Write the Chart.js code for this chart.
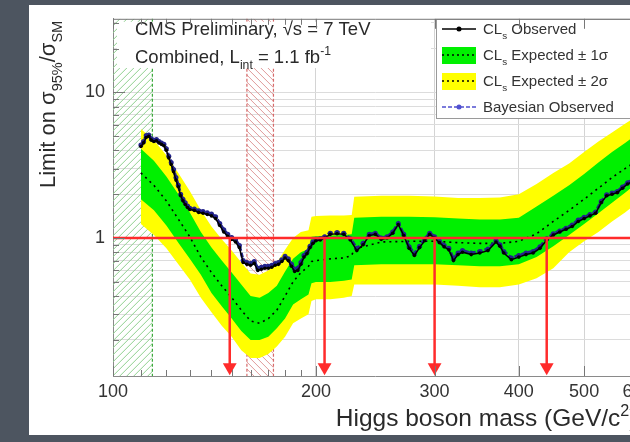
<!DOCTYPE html>
<html>
<head>
<meta charset="utf-8">
<title>Higgs combined limit</title>
<script src="https://cdn.jsdelivr.net/npm/chart.js"></script>
<style>
  html, body { margin: 0; padding: 0; overflow: hidden; }
  body { width: 630px; height: 442px; background: #4d5560; position: relative; }
  #card { position: absolute; left: 29px; top: 5px; width: 700px; height: 430px; background: #fff; }
  #limits { position: absolute; left: 0; top: 0; }
</style>
</head>
<body>
<div id="card"></div>
<canvas id="limits" width="680" height="442"></canvas>
<script>

// Expected limit and its bands, at the mass points of the combination (GeV)
const massExp = [110, 115, 120, 125, 130, 135, 140, 145, 150, 155,
                 160, 165, 170, 175, 180, 185, 190, 195, 197, 200,
                 210, 220, 226, 228, 250, 275, 300, 325, 350, 375,
                 400, 425, 450, 475, 500, 525, 550, 575, 600];
const expMedian = [2.8, 2.3, 1.8, 1.35, 1.02, 0.74, 0.58, 0.47, 0.39, 0.32,
                   0.27, 0.26, 0.28, 0.32, 0.4, 0.5, 0.58, 0.64, 0.69, 0.7,
                   0.72, 0.73, 0.76, 0.84, 0.94, 0.95, 0.95, 0.93, 0.92, 0.92,
                   0.95, 1.07, 1.3, 1.55, 1.85, 2.2, 2.6, 3.0, 3.4];
const exp2Up = [5.6, 4.7, 3.7, 2.8, 2.1, 1.55, 1.2, 0.98, 0.82, 0.68,
                0.57, 0.56, 0.6, 0.68, 0.83, 1.0, 1.1, 1.13, 1.4, 1.42,
                1.43, 1.43, 1.44, 1.92, 1.95, 1.95, 1.93, 1.88, 1.88, 1.9,
                2.0, 2.35, 2.8, 3.25, 3.9, 4.6, 5.3, 6.1, 6.9];
const exp1Up = [4.1, 3.4, 2.65, 2.0, 1.5, 1.1, 0.86, 0.7, 0.58, 0.48,
                0.4, 0.39, 0.42, 0.47, 0.59, 0.72, 0.8, 0.84, 1.02, 1.03,
                1.04, 1.05, 1.06, 1.38, 1.4, 1.4, 1.39, 1.36, 1.34, 1.34,
                1.38, 1.65, 1.95, 2.3, 2.75, 3.3, 3.9, 4.5, 5.2];
const exp1Down = [1.85, 1.55, 1.22, 0.93, 0.72, 0.56, 0.42, 0.34, 0.28, 0.23,
                  0.2, 0.2, 0.21, 0.24, 0.28, 0.35, 0.38, 0.41, 0.49, 0.5,
                  0.5, 0.51, 0.52, 0.65, 0.66, 0.66, 0.66, 0.65, 0.64, 0.64,
                  0.66, 0.74, 0.88, 1.05, 1.25, 1.48, 1.75, 2.05, 2.4];
const exp2Down = [1.25, 1.05, 0.85, 0.66, 0.52, 0.39, 0.31, 0.25, 0.21, 0.17,
                  0.15, 0.15, 0.16, 0.18, 0.21, 0.26, 0.28, 0.3, 0.37, 0.38,
                  0.38, 0.39, 0.4, 0.48, 0.48, 0.48, 0.48, 0.47, 0.46, 0.46,
                  0.48, 0.53, 0.62, 0.8, 0.95, 1.1, 1.3, 1.5, 1.75];

// Observed limits
const massObs = [110, 111, 112, 113, 114, 115, 116, 117, 118, 119,
                 120, 121, 122, 123, 124, 125, 126, 127, 128, 129,
                 130, 132, 134, 136, 138, 140, 142, 144, 146, 148,
                 150, 152, 154, 156, 158, 160, 162, 164, 166, 168,
                 170, 172, 174, 176, 178, 180, 182, 184, 186, 188,
                 190, 192, 194, 196, 198, 200, 203, 206, 210, 215,
                 220, 225, 230, 235, 240, 245, 250, 255, 260, 265,
                 270, 275, 280, 285, 290, 295, 300, 305, 310, 315,
                 320, 325, 330, 340, 350, 360, 370, 375, 380, 390,
                 400, 410, 420, 430, 440, 450, 460, 470, 480, 490,
                 500, 510, 520, 530, 540, 550, 560, 570, 580, 590,
                 600];
const obsCLs = [4.25, 4.5, 4.9, 5.0, 4.7, 4.6, 4.65, 4.5, 4.4, 4.3,
                4.0, 3.55, 3.2, 2.85, 2.5, 2.25, 1.95, 1.8, 1.7, 1.62,
                1.57, 1.55, 1.5, 1.48, 1.45, 1.42, 1.36, 1.22, 1.1, 1.03,
                0.98, 0.94, 0.86, 0.68, 0.66, 0.65, 0.67, 0.6, 0.61, 0.62,
                0.62, 0.63, 0.65, 0.66, 0.69, 0.73, 0.7, 0.64, 0.59, 0.6,
                0.66, 0.74, 0.78, 0.86, 0.92, 0.96, 0.97, 1.0, 1.06, 1.07,
                1.06, 0.97, 0.82, 0.9, 1.04, 1.06, 0.98, 1.0, 1.08, 1.24,
                1.04, 0.85, 0.76, 0.86, 0.96, 1.06, 1.0, 0.93, 0.87, 0.83,
                0.7, 0.77, 0.8, 0.77, 0.79, 0.82, 0.94, 0.88, 0.79, 0.71,
                0.74, 0.77, 0.79, 0.85, 0.97, 1.05, 1.1, 1.15, 1.2, 1.3,
                1.36, 1.42, 1.48, 1.75, 1.95, 2.0, 2.05, 2.2, 2.35, 2.45,
                2.6];
const obsBayes = [4.35, 4.6, 5.05, 5.1, 4.8, 4.7, 4.75, 4.6, 4.5, 4.4,
                  4.1, 3.65, 3.3, 2.95, 2.6, 2.3, 2.0, 1.85, 1.75, 1.66,
                  1.6, 1.58, 1.54, 1.52, 1.49, 1.46, 1.4, 1.26, 1.14, 1.06,
                  1.01, 0.97, 0.89, 0.7, 0.68, 0.67, 0.69, 0.62, 0.63, 0.64,
                  0.64, 0.65, 0.67, 0.68, 0.71, 0.75, 0.72, 0.66, 0.61, 0.62,
                  0.68, 0.76, 0.8, 0.88, 0.94, 0.98, 0.99, 1.02, 1.08, 1.09,
                  1.08, 0.99, 0.85, 0.92, 1.06, 1.08, 1.0, 1.02, 1.1, 1.26,
                  1.06, 0.87, 0.78, 0.88, 0.98, 1.08, 1.02, 0.95, 0.89, 0.85,
                  0.72, 0.79, 0.82, 0.79, 0.81, 0.84, 0.96, 0.9, 0.81, 0.73,
                  0.76, 0.79, 0.81, 0.87, 0.99, 1.07, 1.12, 1.17, 1.23, 1.33,
                  1.39, 1.45, 1.51, 1.78, 1.98, 2.04, 2.09, 2.24, 2.4, 2.5,
                  2.65];

// Edges of the 95% CL excluded ranges, and earlier exclusions
const excludedEdges = [149, 206, 300, 440];
const lepExcluded = [100, 114.4];
const tevatronExcluded = [158, 173];

// Axis ranges, ticks and labels
const xRange = [100, 600];
const yRange = [0.113, 32];
const xTicks = [100, 110, 120, 130, 140, 150, 160, 170, 180, 190, 200, 300, 400, 500, 600];
const xLabels = [100, 200, 300, 400, 500, 600];
const xGrid = [200, 300, 400, 500];
const yTicks = [0.2, 0.3, 0.4, 0.5, 0.6, 0.7, 0.8, 0.9, 1, 2, 3, 4, 5, 6, 7, 8, 9, 10, 20, 30];
const yLabels = [1, 10];

const FONT = "'Liberation Sans', Arial, Helvetica, sans-serif";
const RED = '#ff2b2b';
const NAVY = '#23238c';
const INK = '#2a2a2a';

const pts = (xs, ys) => xs.map((x, i) => ({ x: x, y: ys[i] }));

// text made of pieces: [string, ''|'sub'|'sup']
function richWidth(ctx, parts, size) {
  let w = 0;
  parts.forEach(p => {
    ctx.font = (p[1] ? size * 0.66 : size) + 'px ' + FONT;
    w += ctx.measureText(p[0]).width;
  });
  return w;
}
function richText(ctx, x, y, parts, size) {
  ctx.textAlign = 'left';
  ctx.textBaseline = 'alphabetic';
  let cx = x;
  parts.forEach(p => {
    ctx.font = (p[1] ? size * 0.66 : size) + 'px ' + FONT;
    const dy = p[1] === 'sub' ? size * 0.32 : p[1] === 'sup' ? -size * 0.42 : 0;
    ctx.fillText(p[0], cx, y + dy);
    cx += ctx.measureText(p[0]).width;
  });
  return cx - x;
}

function hatch(ctx, area, x0, x1, color, dir) {
  const top = area.top, bottom = area.bottom, h = bottom - top;
  ctx.save();
  ctx.beginPath();
  ctx.rect(x0, top, x1 - x0, h);
  ctx.clip();
  ctx.strokeStyle = color;
  ctx.lineWidth = 1;
  ctx.beginPath();
  for (let s = x0 - h; s < x1 + h; s += 7) {
    if (dir > 0) { ctx.moveTo(s, bottom); ctx.lineTo(s + h, top); }
    else { ctx.moveTo(s, top); ctx.lineTo(s + h, bottom); }
  }
  ctx.stroke();
  ctx.restore();
}

function edgeLine(ctx, area, x, color) {
  ctx.save();
  ctx.strokeStyle = color;
  ctx.lineWidth = 1.2;
  ctx.setLineDash([3, 2]);
  ctx.beginPath();
  ctx.moveTo(x, area.top);
  ctx.lineTo(x, area.bottom);
  ctx.stroke();
  ctx.restore();
}

// hatched LEP and Tevatron exclusions, behind the bands
const backdrop = {
  id: 'backdrop',
  beforeDatasetsDraw(chart) {
    const ctx = chart.ctx, a = chart.chartArea, xs = chart.scales.x;
    const l0 = xs.getPixelForValue(lepExcluded[0]), l1 = xs.getPixelForValue(lepExcluded[1]);
    const t0 = xs.getPixelForValue(tevatronExcluded[0]), t1 = xs.getPixelForValue(tevatronExcluded[1]);
    hatch(ctx, a, l0, l1, '#8fd08f', 1);
    edgeLine(ctx, a, l1, '#3aa83a');
    hatch(ctx, a, t0, t1, '#e09a9a', -1);
    edgeLine(ctx, a, t0, '#d66a6a');
    edgeLine(ctx, a, t1, '#d66a6a');
  }
};

// ticks inside the frame, labels box, legend and axis titles
const overlay = {
  id: 'overlay',
  afterDatasetsDraw(chart) {
    const ctx = chart.ctx, a = chart.chartArea, xs = chart.scales.x, ys = chart.scales.y;
    ctx.save();

    // labels box
    ctx.fillStyle = '#fff';
    ctx.fillRect(a.left + 4, a.top + 3, 431 - a.left - 4, 68 - a.top - 3);
    ctx.fillStyle = INK;
    richText(ctx, 135, 35, [['CMS Preliminary, \u221As = 7 TeV', '']], 18.5);
    richText(ctx, 135, 63, [['Combined, L', ''], ['int', 'sub'], [' = 1.1 fb', ''], ['-1', 'sup']], 18.5);

    // legend
    const lx = 436, ly = a.top, lw = 220, lh = 118 - a.top;
    ctx.fillStyle = '#fff';
    ctx.fillRect(lx, ly, lw, lh);
    ctx.strokeStyle = '#9a9a9a';
    ctx.lineWidth = 1;
    ctx.strokeRect(lx + 0.5, ly + 0.5, lw, lh);
    const rows = [29, 55, 81, 107];
    const sx0 = 442, sx1 = 476, sxm = 459;
    // observed CLs
    ctx.strokeStyle = '#000';
    ctx.lineWidth = 1.5;
    ctx.beginPath(); ctx.moveTo(sx0, rows[0]); ctx.lineTo(sx1, rows[0]); ctx.stroke();
    ctx.fillStyle = '#000';
    ctx.beginPath(); ctx.arc(sxm, rows[0], 2.5, 0, Math.PI * 2); ctx.fill();
    // bands
    ctx.fillStyle = '#00f000'; ctx.fillRect(sx0, rows[1] - 8, sx1 - sx0, 17);
    ctx.fillStyle = '#ffff00'; ctx.fillRect(sx0, rows[2] - 8, sx1 - sx0, 17);
    ctx.setLineDash([2, 3]);
    [rows[1], rows[2]].forEach(r => {
      ctx.beginPath(); ctx.moveTo(sx0, r); ctx.lineTo(sx1, r); ctx.stroke();
    });
    // bayesian
    ctx.strokeStyle = '#5050d0';
    ctx.setLineDash([4, 2]);
    ctx.beginPath(); ctx.moveTo(sx0, rows[3]); ctx.lineTo(sx1, rows[3]); ctx.stroke();
    ctx.setLineDash([]);
    ctx.fillStyle = '#5050d0';
    ctx.beginPath(); ctx.arc(sxm, rows[3], 2.5, 0, Math.PI * 2); ctx.fill();
    ctx.fillStyle = '#333';
    richText(ctx, 483, rows[0] + 5, [['CL', ''], ['s', 'sub'], [' Observed', '']], 15);
    richText(ctx, 483, rows[1] + 5, [['CL', ''], ['s', 'sub'], [' Expected \u00B1 1\u03C3', '']], 15);
    richText(ctx, 483, rows[2] + 5, [['CL', ''], ['s', 'sub'], [' Expected \u00B1 2\u03C3', '']], 15);
    richText(ctx, 483, rows[3] + 5, [['Bayesian Observed', '']], 15);

    // inside ticks
    ctx.strokeStyle = '#777';
    ctx.lineWidth = 1;
    ctx.beginPath();
    xTicks.forEach(v => {
      const px = Math.round(xs.getPixelForValue(v)) + 0.5;
      const len = xLabels.includes(v) ? 10 : 6;
      ctx.moveTo(px, a.bottom); ctx.lineTo(px, a.bottom - len);
      ctx.moveTo(px, a.top); ctx.lineTo(px, a.top + len);
    });
    yTicks.forEach(v => {
      const py = Math.round(ys.getPixelForValue(v)) + 0.5;
      const len = yLabels.includes(v) ? 12 : 6;
      ctx.moveTo(a.left, py); ctx.lineTo(a.left + len, py);
    });
    ctx.moveTo(a.left, a.top + 0.5); ctx.lineTo(a.right, a.top + 0.5);
    ctx.stroke();
    ctx.restore();
  },
  afterDraw(chart) {
    const ctx = chart.ctx, a = chart.chartArea;
    ctx.save();
    ctx.fillStyle = INK;
    // y title, reading upwards, ending at the top of the frame
    const yParts = [['Limit on \u03C3', ''], ['95%', 'sub'], ['/\u03C3', ''], ['SM', 'sub']];
    const yw = richWidth(ctx, yParts, 22);
    ctx.translate(55, a.top + 2 + yw);
    ctx.rotate(-Math.PI / 2);
    richText(ctx, 0, 0, yParts, 22);
    ctx.restore();
    // x title, right-aligned to the end of the axis
    ctx.save();
    ctx.fillStyle = INK;
    const xParts = [['Higgs boson mass (GeV/c', ''], ['2', 'sup'], [')', '']];
    const xw = richWidth(ctx, xParts, 24.5);
    richText(ctx, a.right - xw, 426, xParts, 24.5);
    ctx.restore();
  }
};

const datasets = [
  {
    label: 'CLs limit',
    data: [{ x: xRange[0], y: 1 }, { x: xRange[1], y: 1 }],
    borderColor: RED, borderWidth: 2.5, pointRadius: 0
  },
  {
    label: 'CLs Observed',
    data: pts(massObs, obsCLs),
    borderColor: '#000', borderWidth: 1.5,
    pointRadius: 1.8, pointBackgroundColor: '#000', pointBorderWidth: 0
  },
  {
    label: 'Bayesian Observed',
    data: pts(massObs, obsBayes),
    borderColor: NAVY, borderWidth: 3, borderDash: [5, 2],
    pointRadius: 2.5, pointBackgroundColor: NAVY, pointBorderWidth: 0
  },
  {
    label: 'CLs Expected',
    data: pts(massExp, expMedian),
    borderColor: '#000', borderWidth: 1.6, borderDash: [2, 4], pointRadius: 0
  },
  {
    label: 'Expected + 1 sigma',
    data: pts(massExp, exp1Up),
    borderWidth: 0, pointRadius: 0,
    fill: '+1', backgroundColor: '#00f000'
  },
  {
    label: 'Expected - 1 sigma',
    data: pts(massExp, exp1Down),
    borderWidth: 0, pointRadius: 0
  },
  {
    label: 'Expected + 2 sigma',
    data: pts(massExp, exp2Up),
    borderWidth: 0, pointRadius: 0,
    fill: '+1', backgroundColor: '#ffff00'
  },
  {
    label: 'Expected - 2 sigma',
    data: pts(massExp, exp2Down),
    borderWidth: 0, pointRadius: 0
  }
];

// downward arrows marking the excluded ranges
excludedEdges.forEach(m => {
  datasets.unshift({
    label: 'excluded ' + m,
    data: [{ x: m, y: 1 }, { x: m, y: 0.13 }],
    borderColor: RED, borderWidth: 2.5,
    pointRadius: [0, 8], pointStyle: 'triangle', rotation: 180,
    pointBackgroundColor: RED, pointBorderWidth: 0
  });
});

new Chart(document.getElementById('limits'), {
  type: 'line',
  data: { datasets: datasets },
  options: {
    responsive: false,
    animation: false,
    devicePixelRatio: 1,
    layout: { padding: { left: 0, top: 13, right: 42.5, bottom: 0 } },
    elements: { line: { tension: 0 } },
    plugins: { legend: { display: false }, tooltip: { enabled: false } },
    scales: {
      x: {
        type: 'logarithmic', min: xRange[0], max: xRange[1],
        afterBuildTicks: s => { s.ticks = xTicks.map(v => ({ value: v })); },
        afterFit: s => { s.height = 66; },
        ticks: {
          autoSkip: false, maxRotation: 0, padding: 5, color: '#333',
          font: { family: FONT, size: 18 },
          callback: v => xLabels.includes(v) ? String(v) : ''
        },
        grid: { drawTicks: false, color: c => xGrid.includes(c.tick && c.tick.value) ? '#d4d4d4' : 'transparent' },
        border: { color: '#8a8a8a' }
      },
      y: {
        type: 'logarithmic', min: yRange[0], max: yRange[1],
        afterBuildTicks: s => { s.ticks = yTicks.map(v => ({ value: v })); },
        afterFit: s => { s.width = 113; },
        ticks: {
          autoSkip: false, padding: 8, color: '#333',
          font: { family: FONT, size: 18 },
          callback: v => yLabels.includes(v) ? String(v) : ''
        },
        grid: { drawTicks: false, color: '#dcdcdc' },
        border: { color: '#8a8a8a' }
      }
    }
  },
  plugins: [backdrop, overlay]
});
</script>
</body>
</html>
